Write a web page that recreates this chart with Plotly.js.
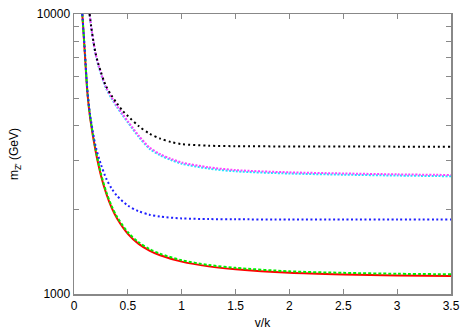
<!DOCTYPE html>
<html>
<head>
<meta charset="utf-8">
<script src="https://cdn.plot.ly/plotly-3.0.1.min.js"></script>
<style>
  html, body { margin: 0; padding: 0; background: white; }
  #chart { width: 471px; height: 330px; }
</style>
</head>
<body>
<div id="chart"></div>
<script>
// v/k values for the two curve families
const vInner = [0.077, 0.09, 0.1, 0.125, 0.15, 0.2, 0.25, 0.3, 0.35, 0.4, 0.5, 0.6, 0.7, 0.8, 1.0, 1.25, 1.5, 2.0, 2.5, 3.0, 3.5];
const vOuter = [0.145, 0.16, 0.18, 0.2, 0.225, 0.25, 0.275, 0.3, 0.35, 0.4, 0.45, 0.5, 0.6, 0.7, 0.8, 0.9, 1.0, 1.25, 1.5, 2.0, 2.5, 3.0, 3.5];

// m_Z' (GeV)
const redMass   = [10000, 8400, 7300, 5200, 4250, 3250, 2650, 2280, 2030, 1860, 1640, 1510, 1430, 1375, 1305, 1255, 1225, 1190, 1174, 1165, 1159];
const greenMass = [10000, 8450, 7380, 5260, 4300, 3290, 2690, 2310, 2060, 1885, 1662, 1530, 1448, 1392, 1320, 1270, 1240, 1205, 1190, 1181, 1176];
const blueMass  = [10000, 8480, 7420, 5300, 4350, 3380, 2900, 2580, 2380, 2240, 2070, 1975, 1920, 1890, 1862, 1852, 1848, 1846, 1845, 1845, 1845];

const blackMass   = [10000, 9000, 8000, 7250, 6650, 6200, 5800, 5500, 5100, 4790, 4520, 4320, 3980, 3740, 3590, 3490, 3430, 3385, 3372, 3365, 3362, 3360, 3360];
const magentaMass = [10000, 8980, 7970, 7220, 6620, 6160, 5760, 5450, 5030, 4690, 4400, 4140, 3680, 3340, 3160, 3040, 2950, 2835, 2770, 2720, 2695, 2675, 2661];
const cyanMass    = [10000, 8930, 7920, 7170, 6570, 6110, 5710, 5400, 4980, 4640, 4355, 4100, 3645, 3305, 3128, 3010, 2920, 2805, 2742, 2693, 2668, 2648, 2634];

const yTickVals = [1000, 10000];
const yMinorVals = [2000, 3000, 4000, 5000, 6000, 7000, 8000, 9000];
const xTickVals = [0, 0.5, 1, 1.5, 2, 2.5, 3, 3.5];

function curve(x, y, color, dash, width) {
    return {
        x: x,
        y: y,
        mode: 'lines',
        type: 'scatter',
        line: { color: color, dash: dash, width: width, shape: 'spline', smoothing: 0.8 },
        hoverinfo: 'skip'
    };
}

const traces = [
    curve(vInner, redMass, '#ff0000', 'solid', 2),
    curve(vInner, greenMass, '#00ee00', '3px,2px', 2),
    curve(vInner, blueMass, '#2020ff', '2px,2.5px', 2),
    curve(vOuter, cyanMass, '#22e5ff', '2px,1.5px', 2),
    curve(vOuter, magentaMass, '#ff44ff', '2px,1.5px', 2),
    curve(vOuter, blackMass, '#000000', '2px,3px', 2)
];

const axisStyle = {
    showline: true,
    linecolor: '#888888',
    linewidth: 1.5,
    mirror: 'ticks',
    ticks: 'inside',
    ticklen: 5,
    tickwidth: 1,
    tickcolor: '#888888',
    showgrid: false,
    zeroline: false,
    tickfont: { size: 12, color: '#000000' }
};

const layout = {
    width: 471,
    height: 330,
    margin: { l: 74, r: 20, t: 14, b: 36 },
    showlegend: false,
    plot_bgcolor: 'white',
    paper_bgcolor: 'white',
    font: { family: 'Liberation Sans, Arial, sans-serif', size: 12, color: '#000000' },
    xaxis: Object.assign({}, axisStyle, {
        range: [0, 3.5],
        tickvals: xTickVals,
        ticktext: xTickVals.map(String),
        title: { text: 'v/k', standoff: 6, font: { size: 12 } },
        automargin: false
    }),
    yaxis: Object.assign({}, axisStyle, {
        type: 'log',
        range: [3, 4],
        tickvals: yTickVals,
        ticktext: yTickVals.map(String),
        minor: { tickmode: 'array', tickvals: yMinorVals, ticks: 'inside', ticklen: 5, tickcolor: '#888888', showgrid: false },
        title: { text: "m<sub>Z'</sub> (GeV)", standoff: 15, font: { size: 12 } },
        automargin: false
    })
};

Plotly.newPlot('chart', traces, layout, { staticPlot: true });
</script>
</body>
</html>
